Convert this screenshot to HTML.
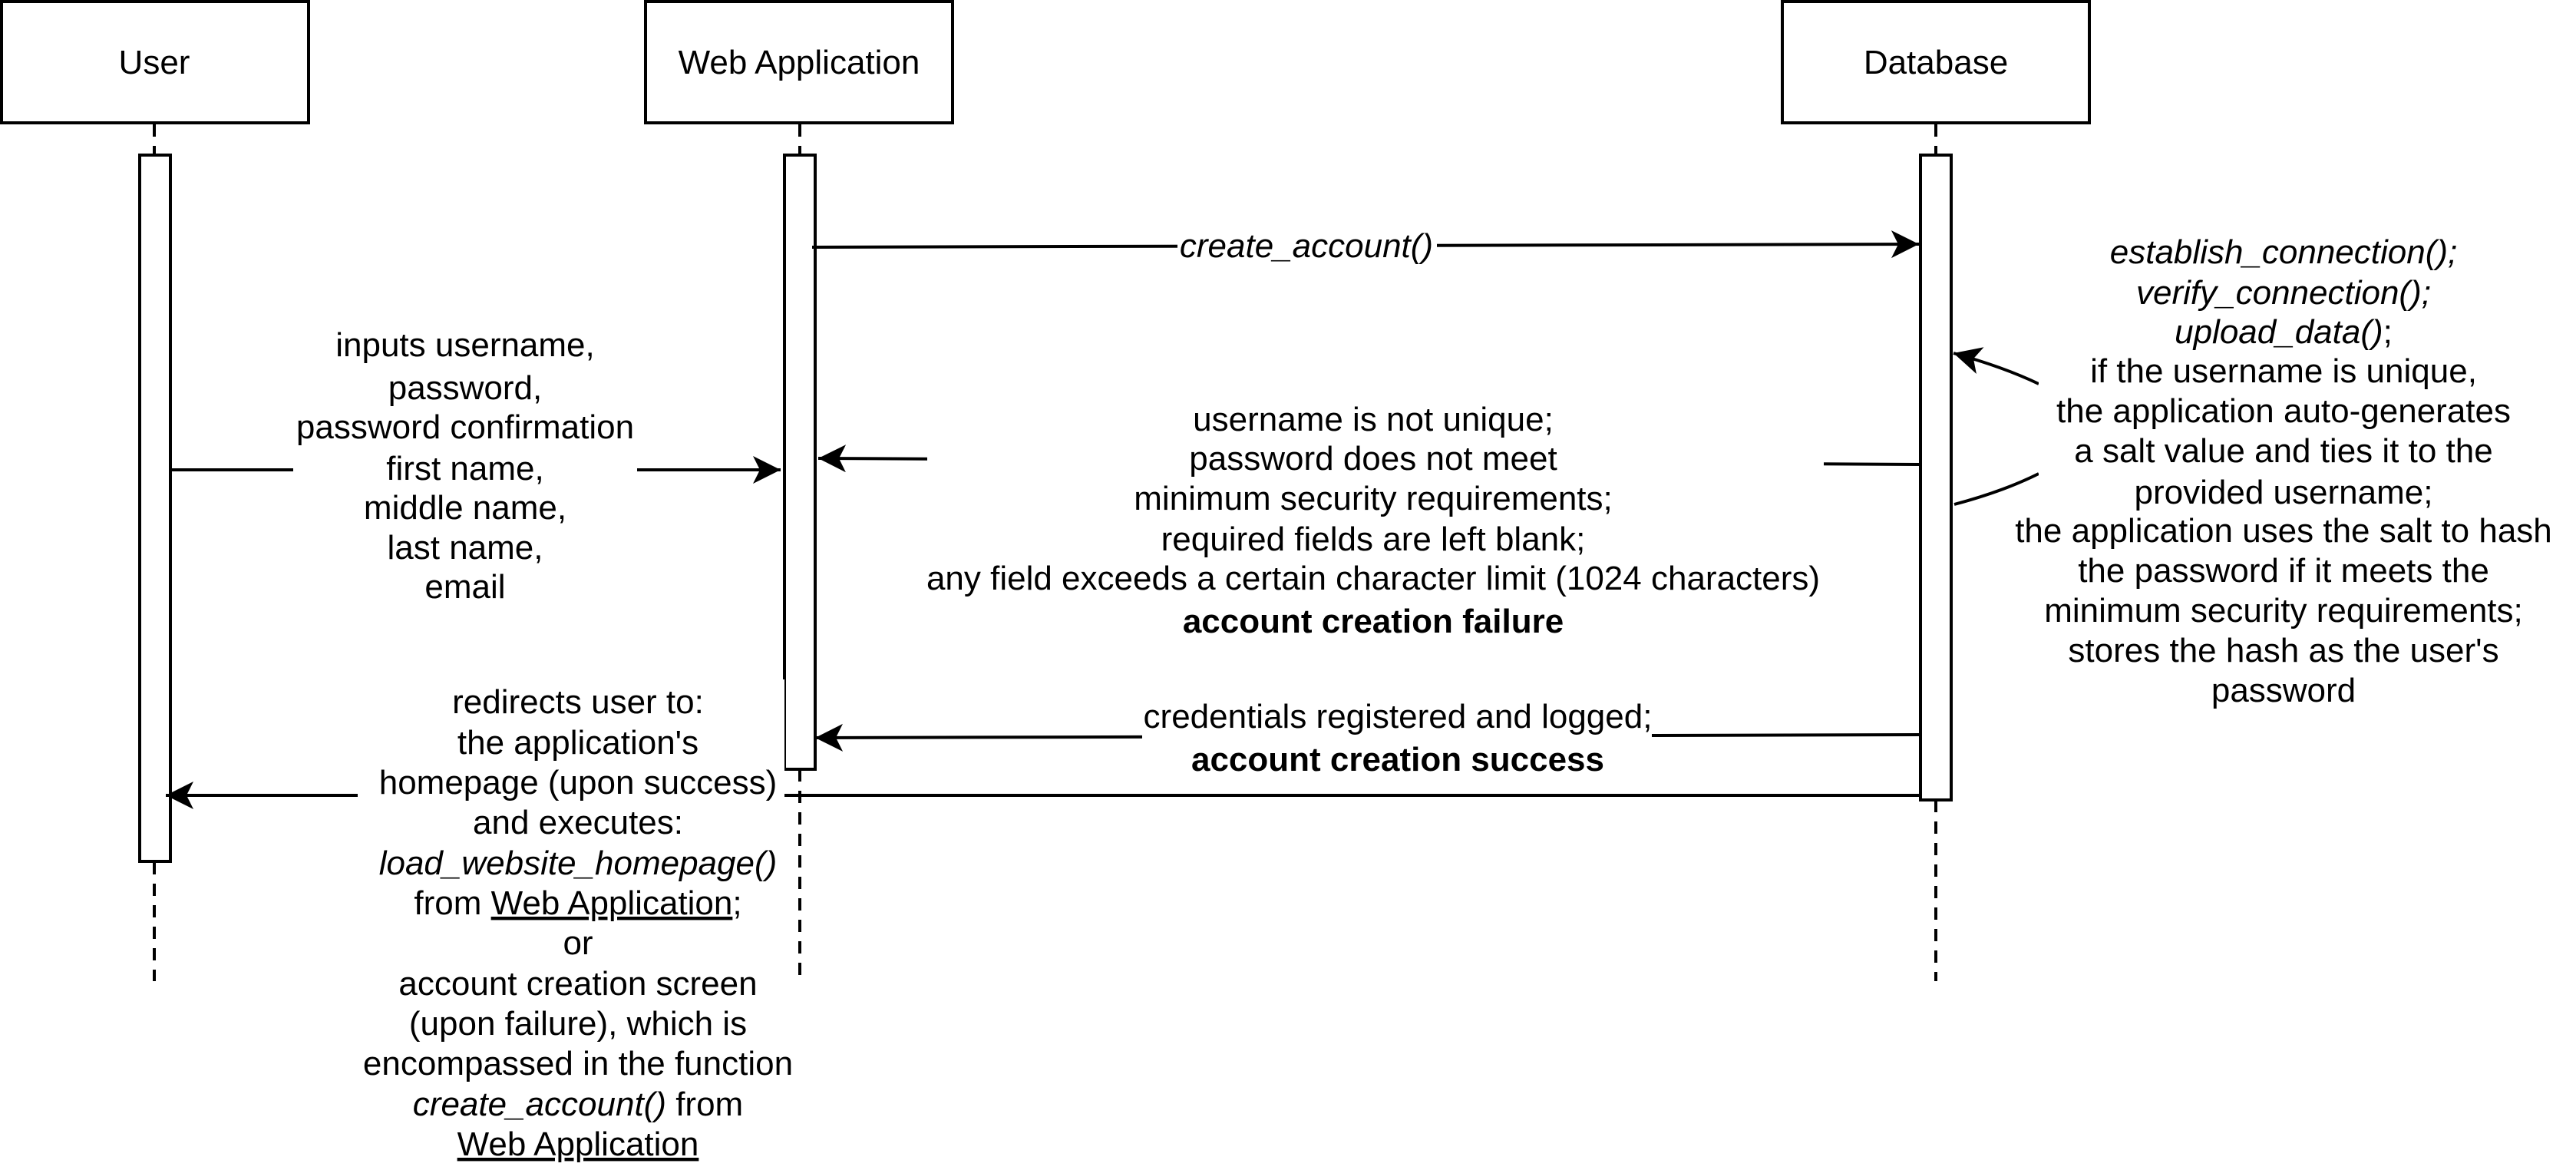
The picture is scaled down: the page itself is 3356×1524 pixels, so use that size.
<!DOCTYPE html>
<html><head><meta charset="utf-8"><style>
html,body{margin:0;padding:0;background:#fff;}
svg{display:block;}
text{font-family:"Liberation Sans",Arial,sans-serif;font-size:44px;fill:#000;}
</style></head><body>
<svg width="3356" height="1524" viewBox="0 0 3356 1524" xmlns="http://www.w3.org/2000/svg">
<defs>
<marker id="a" markerUnits="userSpaceOnUse" markerWidth="40" markerHeight="40" refX="36" refY="18" orient="auto">
<path d="M0,0 L36,18 L0,36 L9,18 Z" fill="#000"/>
</marker>
</defs>
<g fill="#fff" stroke="#000" stroke-width="4">
<rect x="2" y="2" width="400" height="158"/>
<rect x="841" y="2" width="400" height="158"/>
<rect x="2322" y="2" width="400" height="158"/>
</g>
<g style="font-size:48px" text-anchor="middle">
<text x="201" y="96">User</text>
<text x="1041" y="96">Web Application</text>
<text x="2522" y="96">Database</text>
</g>
<g stroke="#000" stroke-width="4" stroke-dasharray="16,12" fill="none">
<line x1="201" y1="162" x2="201" y2="201"/>
<line x1="201" y1="1123" x2="201" y2="1278"/>
<line x1="1042" y1="162" x2="1042" y2="201"/>
<line x1="1042" y1="1002" x2="1042" y2="1278"/>
<line x1="2522" y1="162" x2="2522" y2="201"/>
<line x1="2522" y1="1042" x2="2522" y2="1278"/>
</g>
<g fill="#fff" stroke="#000" stroke-width="4">
<rect x="182" y="202" width="40" height="920"/>
<rect x="1022" y="202" width="40" height="800"/>
<rect x="2502" y="202" width="40" height="840"/>
</g>
<g stroke="#000" stroke-width="4" fill="none">
<line x1="1058" y1="322" x2="2500" y2="318" marker-end="url(#a)"/>
<line x1="222" y1="612" x2="1017" y2="612" marker-end="url(#a)"/>
<line x1="2500" y1="605" x2="1066" y2="597" marker-end="url(#a)"/>
<line x1="2500" y1="957" x2="1062" y2="961" marker-end="url(#a)"/>
<line x1="2500" y1="1036" x2="216" y2="1036" marker-end="url(#a)"/>
<path d="M2546,657 Q2610,640 2656,617"/>
<path d="M2656,500 Q2610,478 2545,460" marker-end="url(#a)"/>
</g>
<g fill="#fff">
<rect x="1534" y="292" width="338" height="58"/>
<rect x="382" y="420" width="448" height="370"/>
<rect x="1208" y="515" width="1168" height="320"/>
<rect x="1488" y="905" width="664" height="110"/>
<rect x="466" y="885" width="556" height="630"/>
<rect x="1014" y="885" width="8" height="120"/>
<rect x="2656" y="300" width="640" height="640"/>
</g>
<text x="1702" y="335" text-anchor="middle" font-style="italic">create_account()</text>
<g text-anchor="middle">
<text x="606" y="464">inputs username,</text>
<text x="606" y="520">password,</text>
<text x="606" y="571">password confirmation</text>
<text x="606" y="625">first name,</text>
<text x="606" y="676">middle name,</text>
<text x="606" y="728">last name,</text>
<text x="606" y="779">email</text>

<text x="1789" y="561">username is not unique;</text>
<text x="1789" y="612">password does not meet</text>
<text x="1789" y="664">minimum security requirements;</text>
<text x="1789" y="717">required fields are left blank;</text>
<text x="1789" y="768">any field exceeds a certain character limit (1024 characters)</text>
<text x="1789" y="824" font-weight="bold">account creation failure</text>

<text x="1821" y="948">credentials registered and logged;</text>
<text x="1821" y="1004" font-weight="bold">account creation success</text>

<text x="753" y="929">redirects user to:</text>
<text x="753" y="982">the application's</text>
<text x="753" y="1034">homepage (upon success)</text>
<text x="753" y="1086">and executes:</text>
<text x="753" y="1139" font-style="italic">load_website_homepage()</text>
<text x="753" y="1191">from <tspan text-decoration="underline">Web Application</tspan>;</text>
<text x="753" y="1243">or</text>
<text x="753" y="1296">account creation screen</text>
<text x="753" y="1348">(upon failure), which is</text>
<text x="753" y="1400">encompassed in the function</text>
<text x="753" y="1453"><tspan font-style="italic">create_account()</tspan> from</text>
<text x="753" y="1505" text-decoration="underline">Web Application</text>
</g>
<g text-anchor="middle" style="font-size:40px">
<text x="2975" y="343" font-style="italic">establish_connection();</text>
<text x="2975" y="396" font-style="italic">verify_connection();</text>
<text x="2975" y="447"><tspan font-style="italic">upload_data()</tspan>;</text>
<text x="2975" y="498">if the username is unique,</text>
<text x="2975" y="550">the application auto-generates</text>
<text x="2975" y="602">a salt value and ties it to the</text>
<text x="2975" y="656">provided username;</text>
<text x="2975" y="706">the application uses the salt to hash</text>
<text x="2975" y="758">the password if it meets the</text>
<text x="2975" y="810">minimum security requirements;</text>
<text x="2975" y="862">stores the hash as the user's</text>
<text x="2975" y="914">password</text>
</g>
</svg>
</body></html>
